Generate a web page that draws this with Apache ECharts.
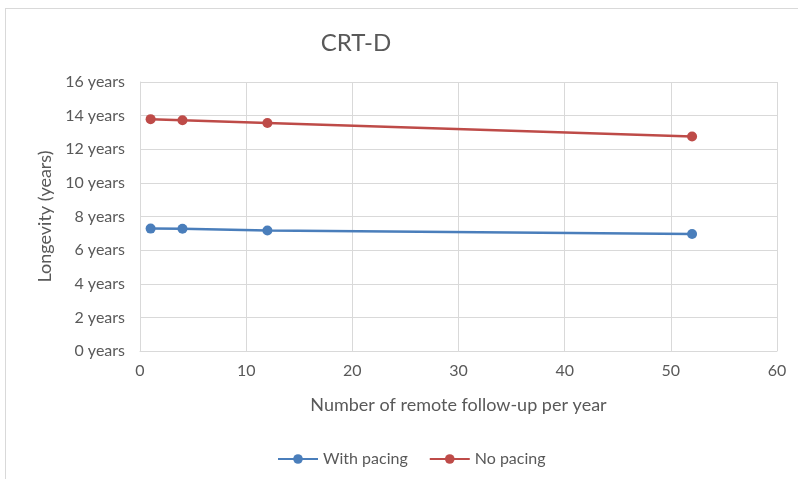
<!DOCTYPE html>
<html>
<head>
<meta charset="utf-8">
<script src="https://cdn.jsdelivr.net/npm/echarts@6/dist/echarts.min.js"></script>
<style>
  html, body { margin: 0; padding: 0; background: #fff; }
  #frame { position: absolute; left: 5px; top: 8px; width: 798px; height: 480px;
           border-left: 1px solid #d9d9d9; border-top: 1px solid #d9d9d9; }
  #chart { position: absolute; left: 0; top: 0; width: 798px; height: 479px; }
</style>
</head>
<body>
<div id="frame"></div>
<div id="chart"></div>
<script>
  // follow-ups per year
  const followUps = [1, 4, 12, 52];
  // longevity in years
  const withPacing = [7.28, 7.27, 7.17, 6.96];
  const noPacing = [13.79, 13.72, 13.56, 12.76];

  const font = 'Lato, "Open Sans", sans-serif';
  const chart = echarts.init(document.getElementById('chart'));

  const pairs = (ys) => followUps.map((x, i) => [x, ys[i]]);

  chart.setOption({
    animation: false,
    title: {
      text: 'CRT-D',
      left: 351,
      top: 26,
      textAlign: 'center',
      textStyle: { fontFamily: font, fontSize: 24, fontWeight: 'normal', color: '#595959' }
    },
    legend: {
      top: 446,
      left: 272,
      itemWidth: 40,
      itemHeight: 12,
      itemGap: 21,
      textStyle: { fontFamily: font, fontSize: 16, color: '#595959' },
      data: ['With pacing', 'No pacing']
    },
    grid: { left: 140, right: 21, top: 82, bottom: 128 },
    xAxis: {
      type: 'value',
      min: 0, max: 60, interval: 10,
      name: 'Number of remote follow-up per year',
      nameLocation: 'middle',
      nameGap: 45,
      nameTextStyle: { fontFamily: font, fontSize: 18, color: '#595959' },
      axisLine: { lineStyle: { color: '#d9d9d9' } },
      axisTick: { show: false },
      axisLabel: { fontFamily: font, fontSize: 16, color: '#595959', margin: 12 },
      splitLine: { lineStyle: { color: '#d9d9d9' } }
    },
    yAxis: {
      type: 'value',
      min: 0, max: 16, interval: 2,
      name: 'Longevity (years)',
      nameLocation: 'middle',
      nameGap: 82,
      nameTextStyle: { fontFamily: font, fontSize: 18, color: '#595959' },
      axisLine: { show: true, lineStyle: { color: '#d9d9d9' } },
      axisTick: { show: false },
      axisLabel: { fontFamily: font, fontSize: 16, color: '#595959', margin: 15,
                   formatter: v => v + ' years' },
      splitLine: { lineStyle: { color: '#d9d9d9' } }
    },
    series: [
      {
        name: 'With pacing',
        type: 'line',
        data: pairs(withPacing),
        symbol: 'circle',
        symbolSize: 10,
        color: '#4a7ebb',
        lineStyle: { width: 2.5 }
      },
      {
        name: 'No pacing',
        type: 'line',
        data: pairs(noPacing),
        symbol: 'circle',
        symbolSize: 10,
        color: '#be4b48',
        lineStyle: { width: 2.5 }
      }
    ]
  });
</script>
</body>
</html>
